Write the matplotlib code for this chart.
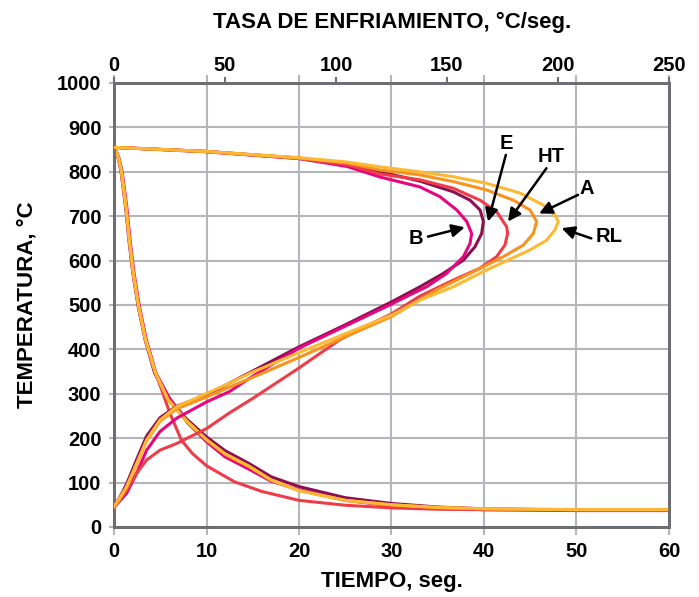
import matplotlib
matplotlib.use("Agg")
import matplotlib.pyplot as plt

plt.rcParams['font.family'] = ['Liberation Sans', 'DejaVu Sans']
plt.rcParams['font.weight'] = 'bold'

# colours per oil
colors = {'E': '#8c0f52', 'B': '#e6067f', 'HT': '#ee3d48', 'A': '#f7931e', 'RL': '#fdb934'}
order = ['E', 'B', 'HT', 'A', 'RL']

# temperature vs time (s, degC)
time_t = {
    'E':  [0, 0.25, 0.5, 0.78, 1.25, 1.61, 2.04, 2.62, 3.37, 4.4, 5.8, 7.8, 10, 12, 14.6, 17, 20, 25, 30, 35, 40, 50, 60],
    'B':  [0, 0.35, 0.6, 0.9, 1.38, 1.74, 2.17, 2.75, 3.5, 4.55, 5.95, 7.9, 10, 12, 14.6, 17, 20, 25, 30, 35, 40, 50, 60],
    'HT': [0, 0.3, 0.54, 0.83, 1.3, 1.66, 2.09, 2.67, 3.42, 4.43, 5.0, 6.05, 7.3, 8.5, 10, 13, 16, 20, 25, 30, 35, 40, 50, 60],
    'A':  [0, 0.3, 0.54, 0.83, 1.3, 1.66, 2.09, 2.67, 3.42, 4.5, 5.87, 7.86, 10, 12, 14.6, 17, 20, 25, 30, 35, 40, 50, 60],
    'RL': [0, 0.3, 0.54, 0.83, 1.3, 1.66, 2.09, 2.67, 3.42, 4.5, 5.87, 7.86, 10, 12, 14.6, 17, 20, 25, 30, 35, 40, 50, 60],
}
time_T = {
    'E':  [855, 842, 827, 797, 721, 646, 571, 496, 421, 346, 292, 244, 203, 172, 143, 113, 91, 66, 53, 45, 41, 38, 38],
    'B':  [855, 842, 827, 797, 721, 646, 571, 496, 421, 346, 292, 236, 192, 158, 130, 103, 84, 60, 48, 42, 39, 37, 37],
    'HT': [855, 842, 827, 797, 721, 646, 571, 496, 421, 350, 318, 256, 195, 165, 138, 102, 80, 60, 49, 43, 40, 39, 38, 38],
    'A':  [855, 842, 827, 797, 721, 646, 571, 496, 421, 346, 286, 238, 196, 164, 136, 105, 82, 60, 50, 44, 41, 39, 39],
    'RL': [855, 842, 827, 797, 721, 646, 571, 496, 421, 346, 286, 239, 197, 165, 137, 106, 82, 60, 50, 44, 41, 39, 39],
}

# temperature vs cooling rate (degC/s, degC), from 855 round the nose back down to ~45
rate_r = {
    'E':  [0, 41, 83, 105, 120, 137.8, 152.8, 160.4, 164.9, 166.4, 165.6, 162.6, 157.4, 148.3, 137.8, 125, 104, 83,
           62, 52, 41.8, 28.2, 20.7, 14.7, 10.2, 5.7, 2.5, 0],
    'B':  [0, 41, 83, 105, 120, 137.8, 146.8, 154.4, 158.9, 161.1, 160.4, 157.4, 149.8, 140.8, 134.6, 125, 104, 83,
           62, 52, 41.8, 28.2, 20.7, 14.7, 10.2, 5.7, 2.5, 0],
    'HT': [0, 41, 83, 105, 120, 137.8, 152.8, 164.9, 172.4, 176.9, 177.3, 176.1, 172.4, 164.9, 152.8, 137.8, 125, 113,
           101.5, 83, 62, 52, 41.8, 28.2, 20.7, 14.7, 10.2, 5.7, 2.5, 0],
    'A':  [0, 41, 83, 105, 120, 137.8, 152.8, 167.9, 179.9, 187.4, 190.4, 188.9, 184.4, 175.4, 160.4, 145.4, 137.8, 125,
           104, 83, 62, 52, 41.8, 28.2, 20.7, 14.7, 10.2, 5.7, 2.5, 0],
    'RL': [0, 41, 83, 105, 120, 137.8, 152.8, 167.9, 182.9, 193.4, 198.6, 200.1, 198.6, 194.9, 187.4, 167.9, 152.8, 137.8,
           125, 104, 83, 62, 52, 41.8, 28.2, 20.7, 14.7, 10.2, 5.7, 2.5, 0],
}
rate_T = {
    'E':  [855, 846, 831, 818, 800, 779, 755, 736, 714, 688, 661, 631, 601, 571, 541, 507, 455, 405,
           350, 324, 297, 272, 246, 205, 152, 97, 66, 46],
    'B':  [855, 846, 830, 812, 788, 766, 744, 714, 688, 661, 639, 609, 571, 541, 526, 502, 452, 402,
           338, 305, 282, 245, 215, 173, 121, 76, 58, 45],
    'HT': [855, 845, 830, 816, 795, 782, 763, 736, 710, 676, 661, 635, 609, 583, 556, 520, 480, 451,
           421, 357, 288, 257, 222, 188, 173, 151, 121, 83, 62, 44],
    'A':  [855, 846, 831, 820, 804, 793, 778, 759, 736, 714, 688, 661, 635, 609, 571, 534, 512, 474,
           428, 381, 336, 315, 293, 266, 238, 194, 141, 89, 62, 46],
    'RL': [855, 846, 832, 822, 811, 800, 789, 774, 752, 725, 703, 688, 669, 646, 624, 579, 541, 511,
           477, 435, 392, 348, 324, 301, 271, 241, 196, 143, 91, 65, 46],
}

# label position, arrow tail, arrow tip (rate, T)
labels = {
    'E':  ((176.8, 864), (176.5, 838), (168.5, 688)),
    'HT': ((197.0, 834), (194.8, 808), (177.5, 688)),
    'A':  ((213.0, 763), (209.0, 748), (191.5, 706)),
    'B':  ((136.0, 650), (141.4, 654), (158.0, 675)),
    'RL': ((223.0, 654), (215.0, 650), (201.6, 673)),
}

spine_c = '#6d6e71'
grid_c = '#b5b6b9'

fig = plt.figure(figsize=(6.99, 5.97), dpi=100)
ax = fig.add_axes([114 / 699, 1 - 527 / 597, 555 / 699, 444 / 597])
ax2 = ax.twiny()

for k in order:
    ax.plot(time_t[k], time_T[k], color=colors[k], lw=2.2, solid_joinstyle='round', zorder=3)
    ax2.plot(rate_r[k], rate_T[k], color=colors[k], lw=2.2, solid_joinstyle='round', zorder=3)

ax.set_xlim(0, 60)
ax.set_ylim(0, 1000)
ax2.set_xlim(0, 250)
ax.set_xticks(range(0, 61, 10))
ax.set_yticks(range(0, 1001, 100))
ax2.set_xticks(range(0, 251, 50))

ax.grid(True, color=grid_c, lw=1.5)
ax.set_axisbelow(True)
for a in (ax, ax2):
    for s in a.spines.values():
        s.set_color(spine_c)
        s.set_linewidth(2)
ax.tick_params(axis='x', direction='out', length=6, width=1.5, color=grid_c,
               labelsize=14.5, pad=5, top=True)
ax.tick_params(axis='y', direction='out', length=3.5, width=1.5, color=grid_c,
               labelsize=14.5, pad=5.5)
ax2.tick_params(axis='x', direction='out', length=4, width=1.5, color=spine_c,
                labelsize=14.5, pad=2)

for k, (lab, tail, tip) in labels.items():
    ax2.text(lab[0], lab[1], k, ha='center', va='center', fontsize=14.5, fontweight='bold')
    ax2.annotate('', xy=tip, xytext=tail,
                 arrowprops=dict(arrowstyle='-|>', mutation_scale=19, lw=1.8,
                                 color='black', shrinkA=0, shrinkB=0))

fig.text(392 / 699, 1 - 22 / 597, 'TASA DE ENFRIAMIENTO, °C/seg.', ha='center', va='center',
         fontsize=16, fontweight='bold')
fig.text(392 / 699, 1 - 582 / 597, 'TIEMPO, seg.', ha='center', va='center',
         fontsize=16, fontweight='bold')
fig.text(27 / 699, 1 - 305 / 597, 'TEMPERATURA, °C', ha='center', va='center',
         rotation=90, fontsize=16, fontweight='bold')

fig.savefig('out.png', dpi=100)
